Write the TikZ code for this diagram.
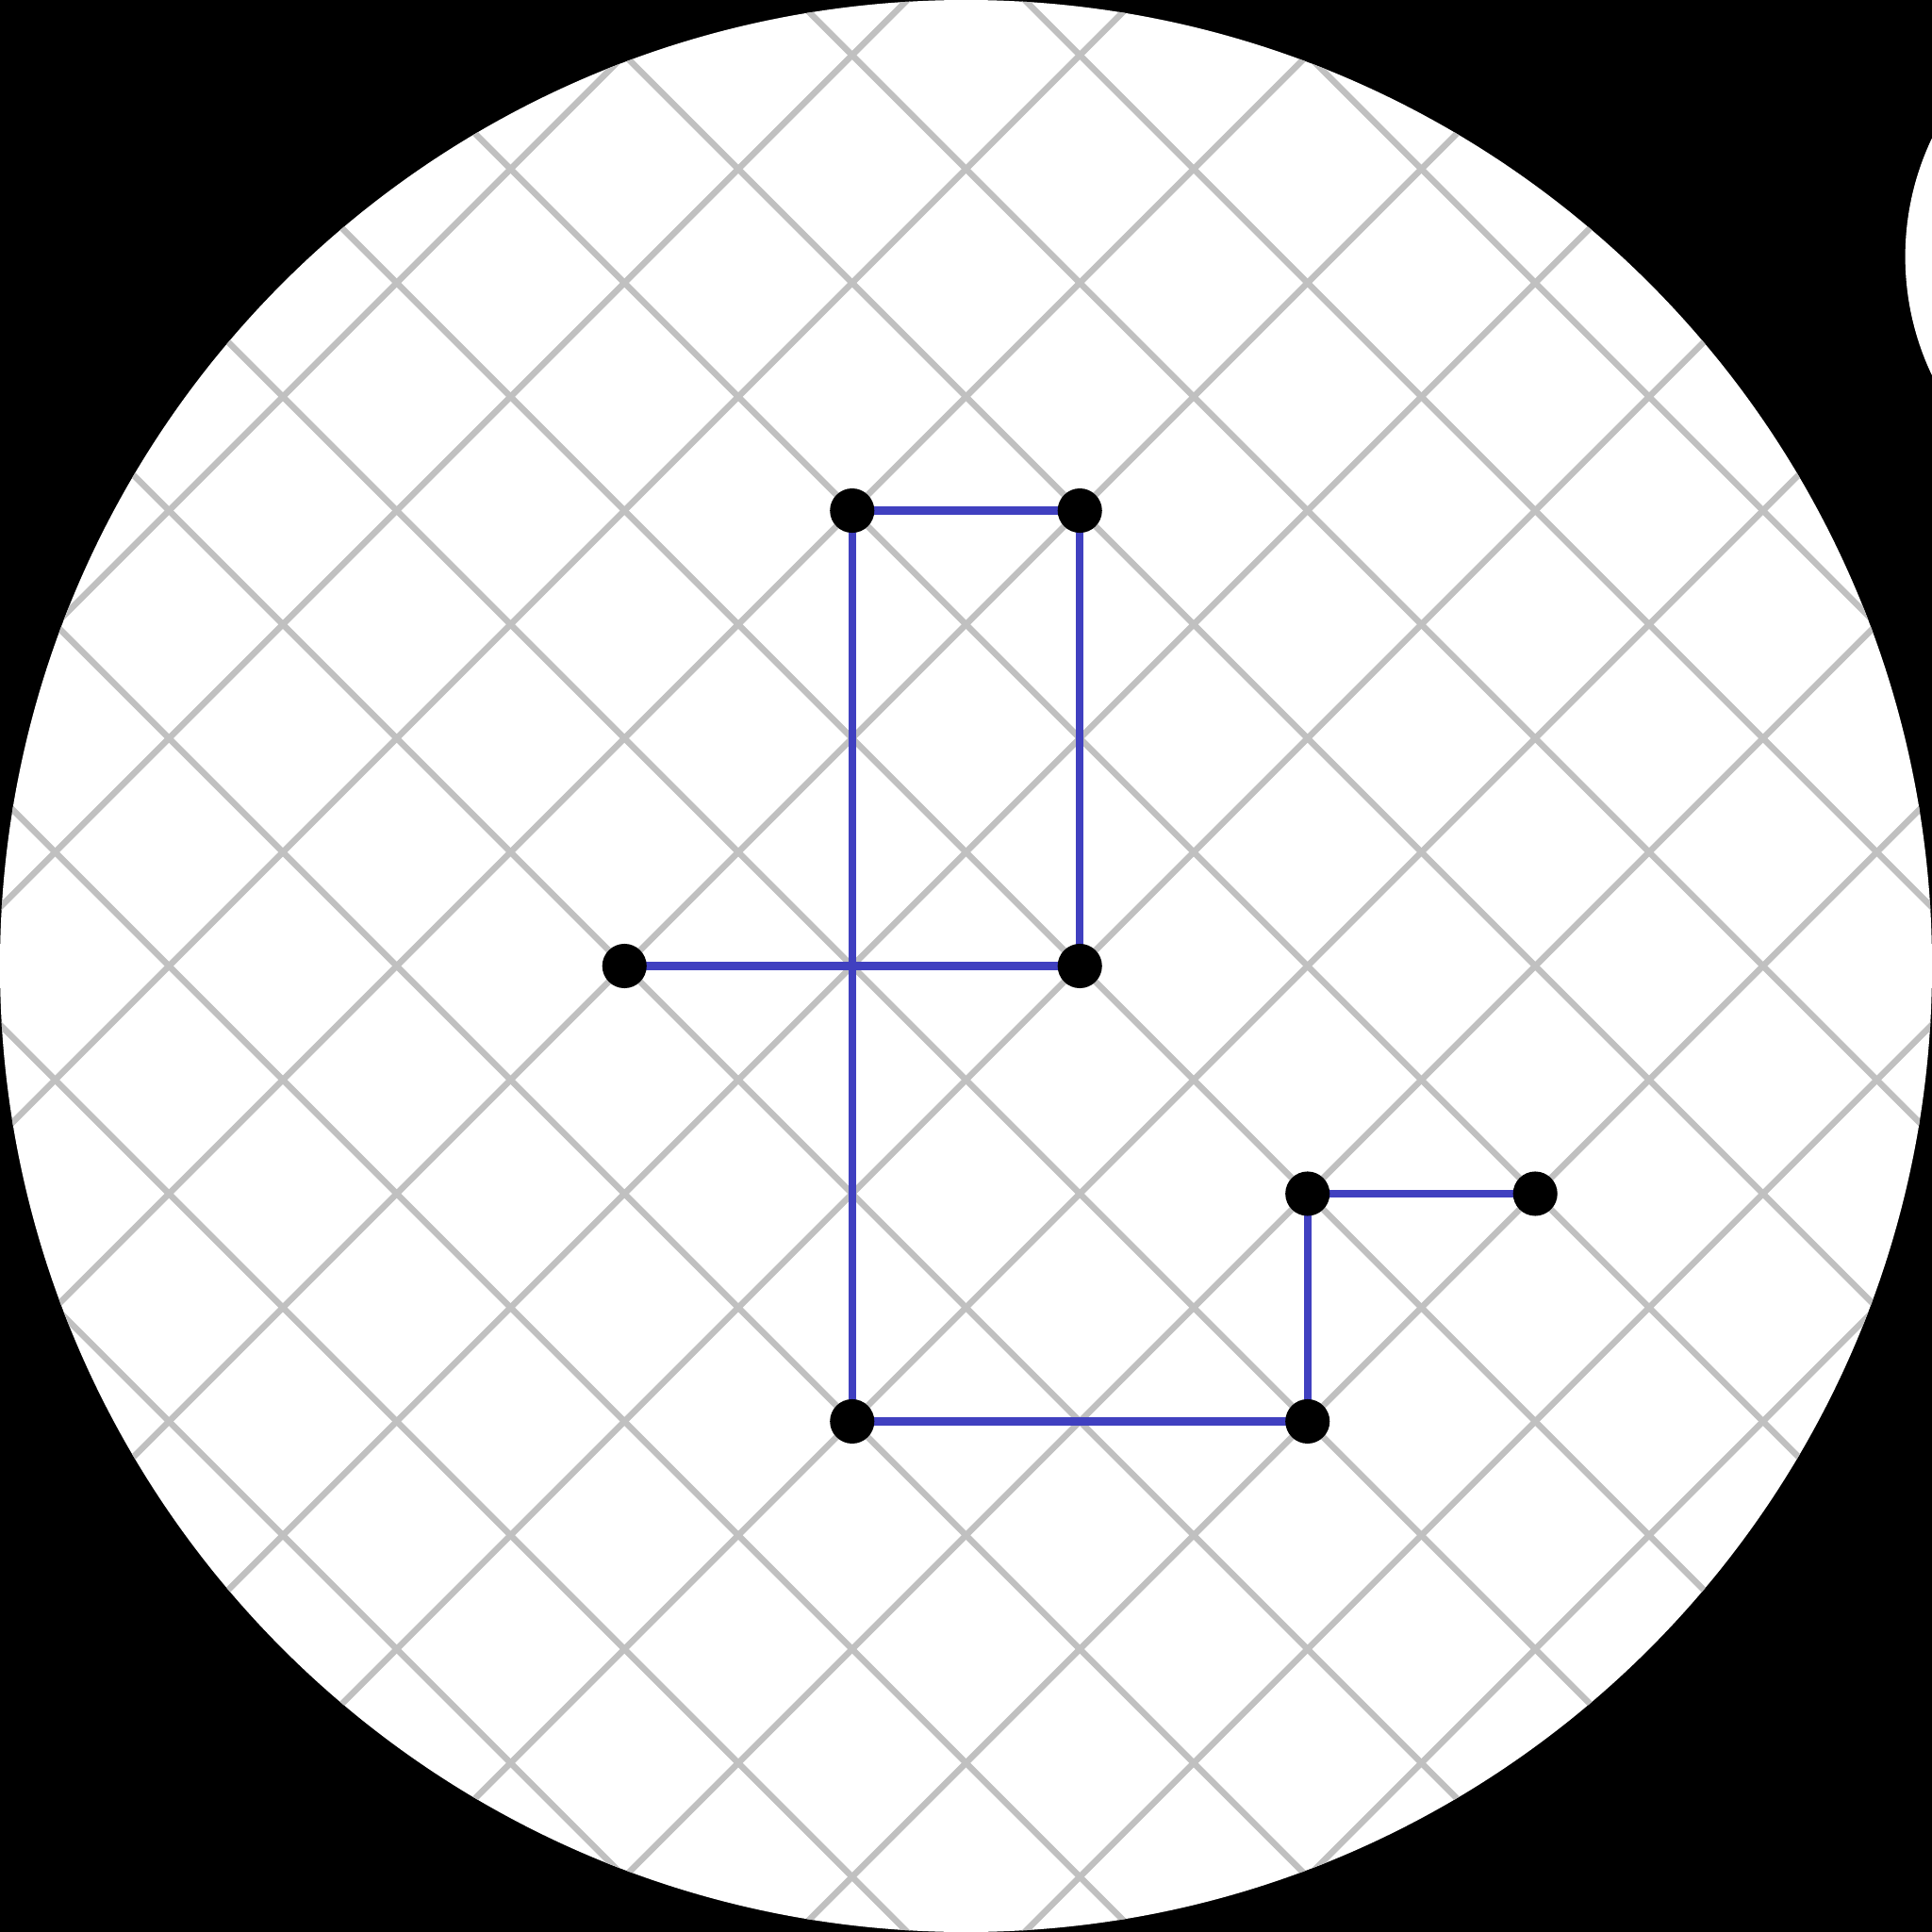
\documentclass[tikz,border=0pt]{standalone}
\usetikzlibrary{calc}
\definecolor{gridgray}{RGB}{192,192,192}
\definecolor{edgeblue}{RGB}{64,64,192}
\tikzset{
  dot/.style={circle,fill=black,inner sep=0pt,minimum size=0.39cm},
  edge/.style={edgeblue,line width=1.9pt},
  gridline/.style={gridgray,line width=1.55pt}
}
\begin{document}
\begin{tikzpicture}
      \useasboundingbox (-8.485,-8.485) rectangle (8.485,8.485);
      \clip (-8.485,-8.485) rectangle (8.485,8.485);
      \fill[black] (-8.485,-8.485) rectangle (8.485,8.485);
      \fill[white] (10.67,6.23) circle (2.42);
      \fill[white] (0,0) circle (8.485);
      \begin{scope}
        \clip (0,0) circle (8.485);
        \foreach \c in {-11,-9,...,11} {
          \draw[gridline] (\c-10,10) -- (\c+10,-10);
          \draw[gridline] (\c-10,-10) -- (\c+10,10);
        }
      \end{scope}
      \coordinate (a) at (-1,4);
      \coordinate (b) at (1,4);
      \coordinate (c) at (-3,0);
      \coordinate (d) at (1,0);
      \coordinate (e) at (3,-2);
      \coordinate (f) at (5,-2);
      \coordinate (g) at (-1,-4);
      \coordinate (h) at (3,-4);
      \draw[edge] (a) -- (b);
      \draw[edge] (b) -- (d);
      \draw[edge] (a) -- (g);
      \draw[edge] (c) -- (d);
      \draw[edge] (g) -- (h);
      \draw[edge] (h) -- (e);
      \draw[edge] (e) -- (f);
      \foreach \p in {a,b,c,d,e,f,g,h}
        \node[dot] (\p dot) at (\p) {};
    \end{tikzpicture}
\end{document}
